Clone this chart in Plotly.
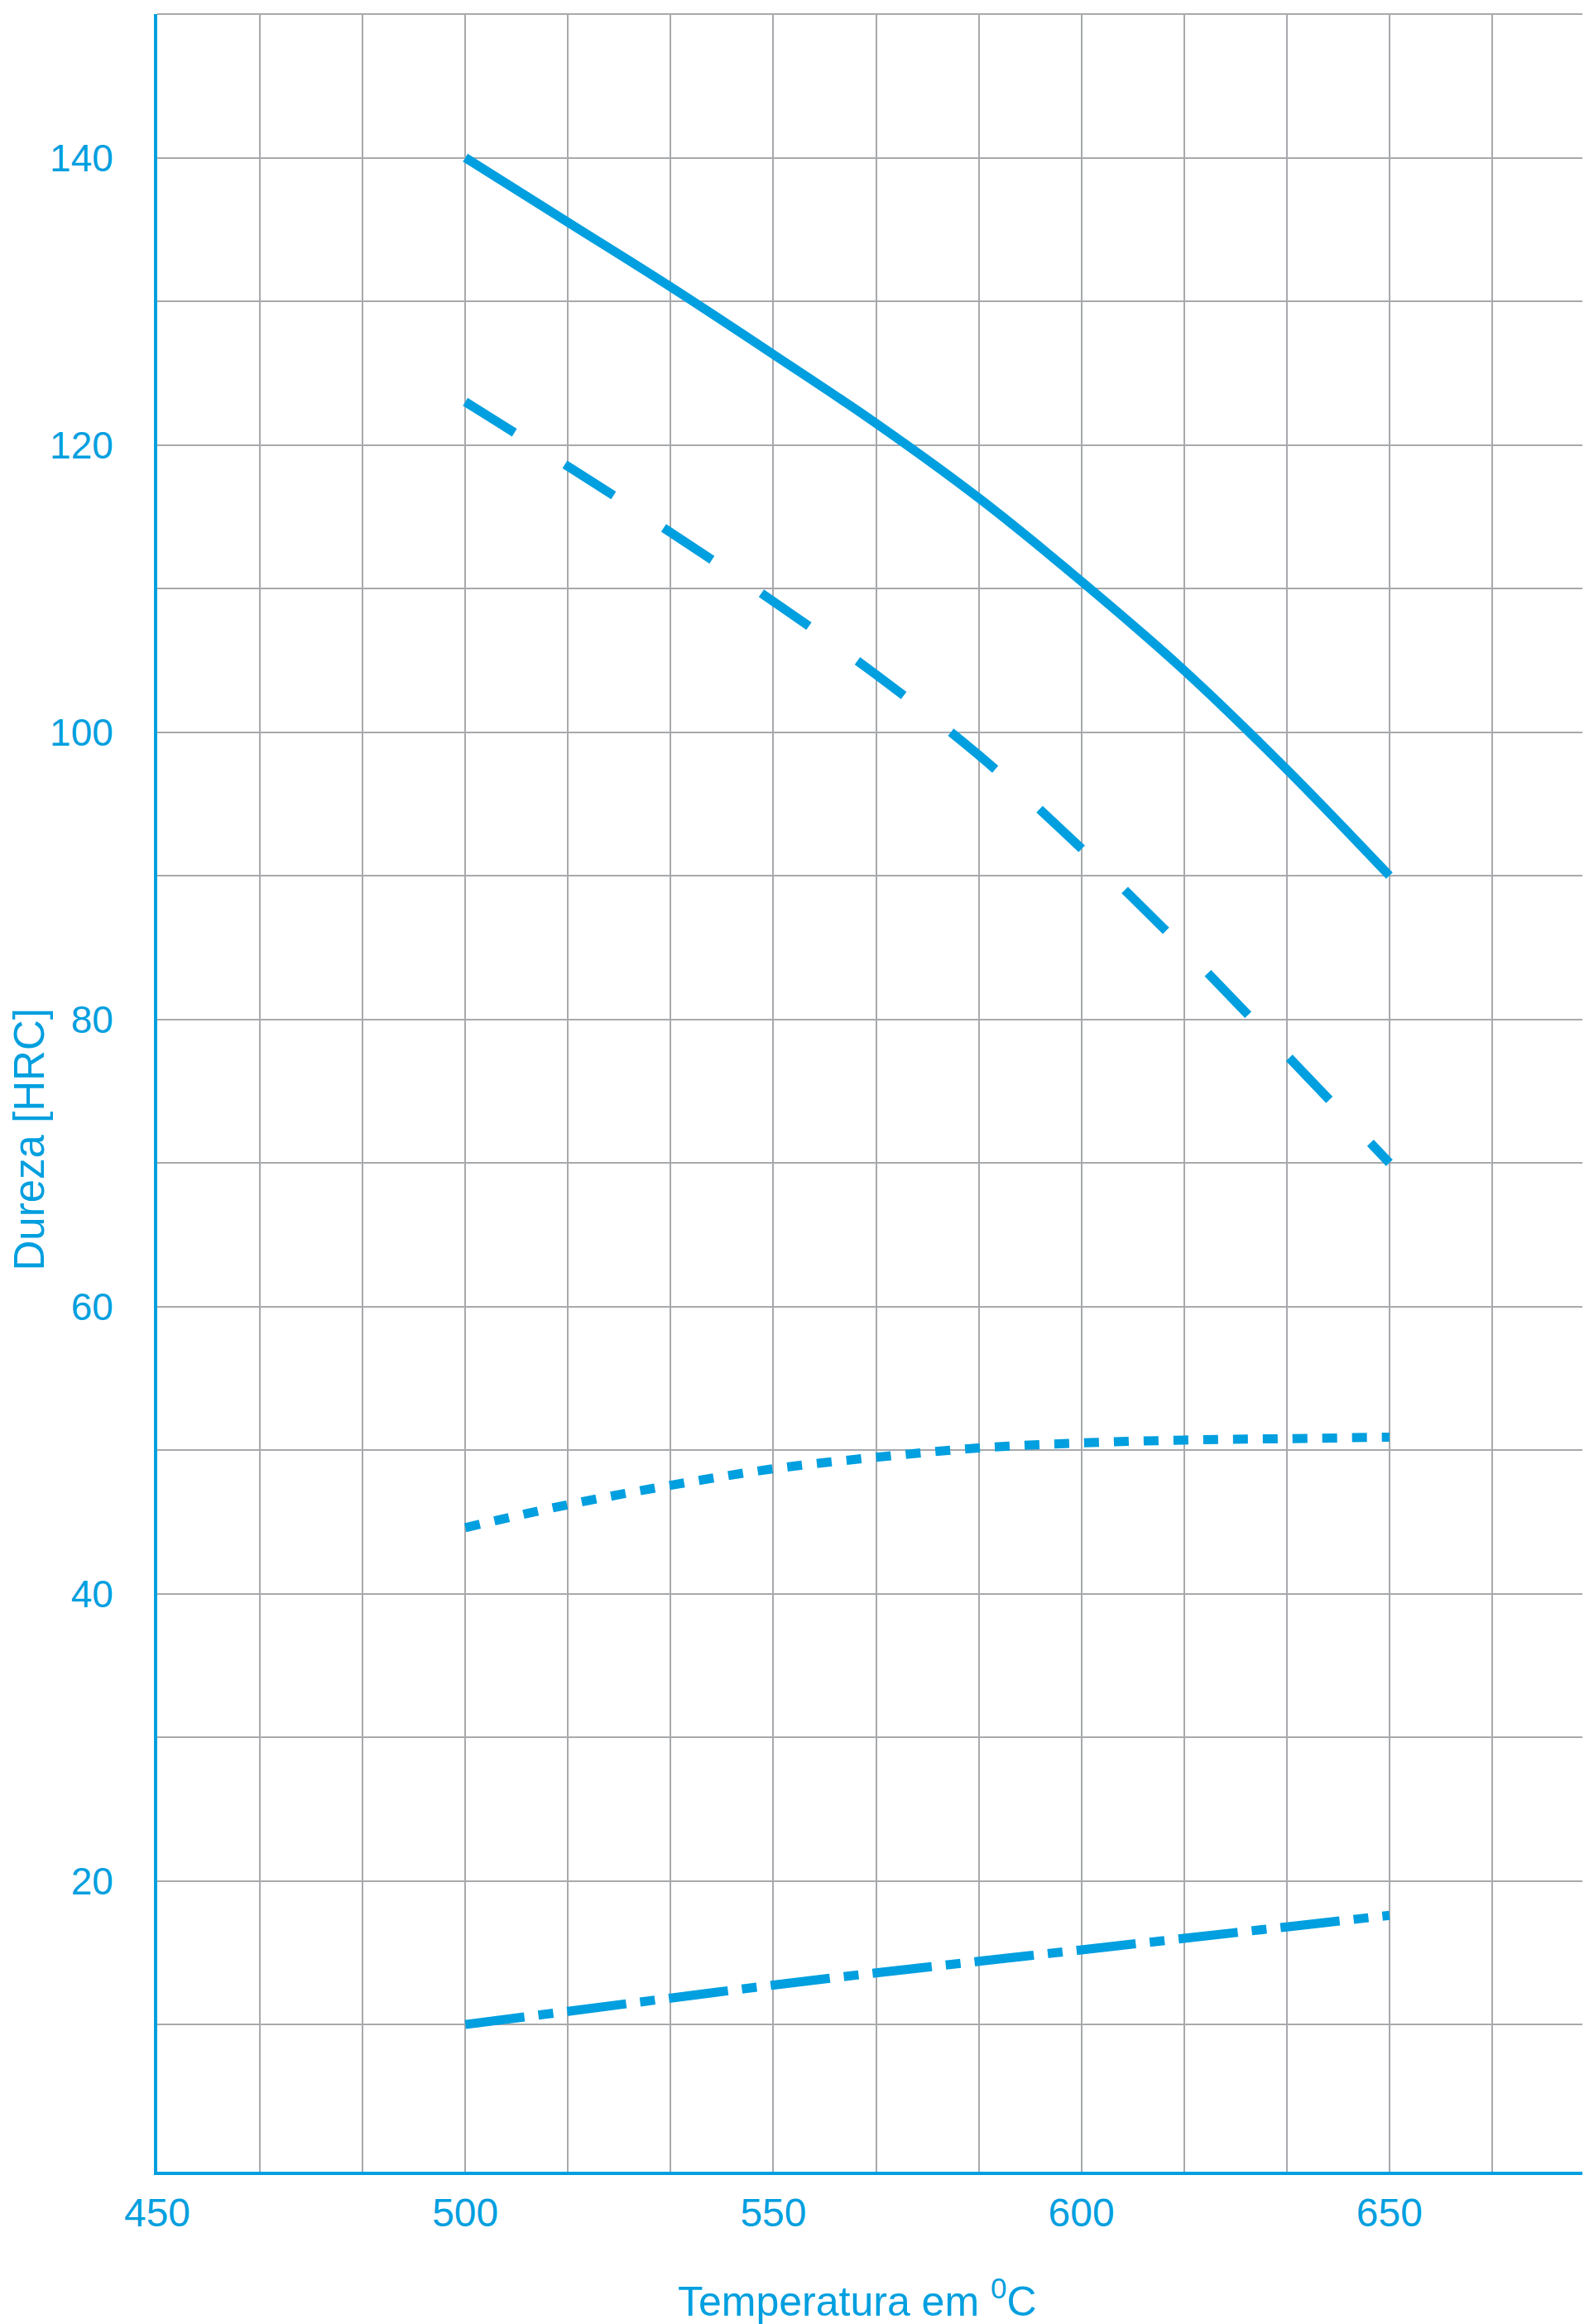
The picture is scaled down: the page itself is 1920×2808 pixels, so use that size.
import plotly.graph_objects as go

# ---- data ----
temperatura = [500, 516.67, 533.33, 550, 566.67, 583.33, 600, 616.67, 633.33, 650]
dureza_solida = [140.0, 135.5, 131.0, 126.3, 121.5, 116.3, 110.5, 104.3, 97.4, 90.0]
dureza_tracejada = [123.0, 118.5, 113.9, 109.1, 104.0, 98.4, 91.9, 84.9, 77.5, 70.0]
dureza_pontilhada = [44.6, 46.2, 47.55, 48.7, 49.5, 50.15, 50.5, 50.7, 50.8, 50.9]
dureza_traco_ponto = [10.0, 10.92, 11.84, 12.75, 13.6, 14.4, 15.2, 16.0, 16.8, 17.6]

x_tick_values = [450, 500, 550, 600, 650]
x_tick_labels = ["450", "500", "550", "600", "650"]
x_grid_values = [466.667, 483.333, 516.667, 533.333, 566.667, 583.333,
                 616.667, 633.333, 666.667]
y_tick_values = [20, 40, 60, 80, 100, 120, 140]
y_tick_labels = ["20", "40", "60", "80", "100", "120", "140"]
y_grid_values = [10, 30, 50, 70, 90, 110, 130]

x_title = "Temperatura em <sup>0</sup>C"
y_title = "Dureza [HRC]"

BLUE = "#009FDF"
GRID = "#A7A9AC"
FONT = "Liberation Sans, Arial, Helvetica, sans-serif"

fig = go.Figure()

series = [
    (dureza_solida, "solid"),
    (dureza_tracejada, "70px,72px"),
    (dureza_pontilhada, "18px,18px"),
    (dureza_traco_ponto, "72px,17px,18px,17px"),
]
for ys, dash in series:
    fig.add_trace(go.Scatter(
        x=temperatura, y=ys, mode="lines",
        line=dict(color=BLUE, width=11, dash=dash, shape="spline", smoothing=1.0),
        showlegend=False, hoverinfo="skip",
    ))

# frame lines at the top and right edge of the plot area (grey, like the grid)
frame_shapes = [
    dict(type="line", xref="paper", yref="paper", x0=0, x1=1, y0=1, y1=1,
         line=dict(color=GRID, width=2), layer="below"),
    dict(type="line", xref="paper", yref="paper", x0=1, x1=1, y0=0, y1=1.002,
         line=dict(color=GRID, width=2), layer="below"),
]

fig.update_layout(
    width=1920, height=2808,
    margin=dict(l=182, r=1, t=9, b=192, pad=0),
    paper_bgcolor="white", plot_bgcolor="white",
    font=dict(family=FONT, color=BLUE),
    showlegend=False,
    shapes=frame_shapes,
    xaxis=dict(
        range=[450, 683.333],
        tickmode="array", tickvals=x_tick_values, ticktext=x_tick_labels,
        showgrid=True, gridcolor=GRID, gridwidth=2,
        minor=dict(tickmode="array", tickvals=x_grid_values, showgrid=True,
                   gridcolor=GRID, gridwidth=2, ticks=""),
        showline=True, linecolor=BLUE, linewidth=4,
        ticks="", ticklabelstandoff=4,
        tickfont=dict(size=48, color=BLUE, family=FONT),
        zeroline=False,
    ),
    yaxis=dict(
        range=[-0.25, 150.0],
        tickmode="array", tickvals=y_tick_values, ticktext=y_tick_labels,
        showgrid=True, gridcolor=GRID, gridwidth=2,
        minor=dict(tickmode="array", tickvals=y_grid_values, showgrid=True,
                   gridcolor=GRID, gridwidth=2, ticks=""),
        showline=True, linecolor=BLUE, linewidth=4,
        ticks="", ticklabelstandoff=40,
        tickfont=dict(size=46, color=BLUE, family=FONT),
        zeroline=False,
    ),
    annotations=[
        dict(text=x_title, xref="paper", yref="paper", x=0.487, y=-0.0585,
             xanchor="center", yanchor="middle", showarrow=False,
             font=dict(size=50, color=BLUE, family=FONT)),
        dict(text=y_title, xref="paper", yref="paper", x=-0.089, y=0.4783,
             xanchor="center", yanchor="middle", showarrow=False, textangle=-90,
             font=dict(size=51, color=BLUE, family=FONT)),
    ],
)

fig.write_html("out.html")
